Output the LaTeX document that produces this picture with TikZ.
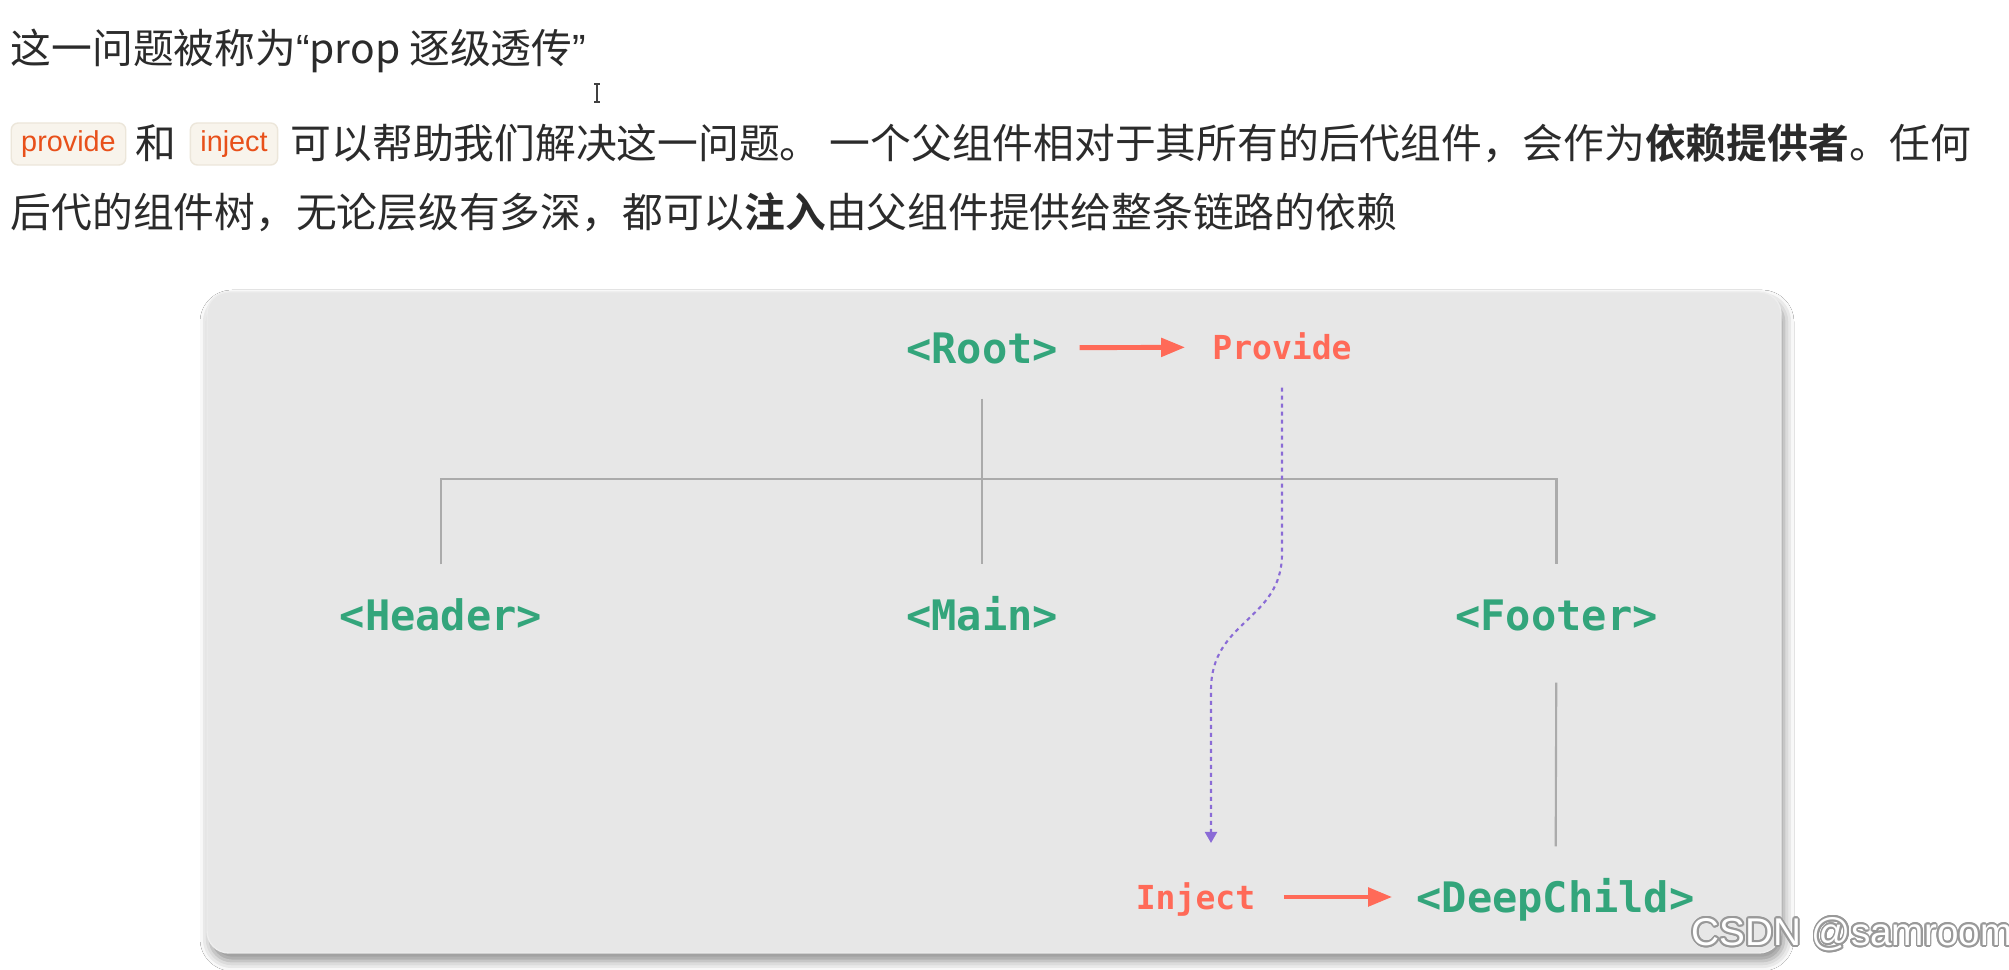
\documentclass[tikz,border=0pt]{standalone}
\usepackage{fontspec}
\setmainfont{Noto Sans CJK SC}[BoldFont={Noto Sans CJK SC Bold}]
\newfontfamily\codefont{DejaVu Sans Mono}
\newfontfamily\markfont{Liberation Sans}
\usepackage[copies]{contour}
\contourlength{0.5pt}
\usetikzlibrary{arrows.meta,shadows.blur}
\definecolor{vuegreen}{HTML}{33A57B}
\definecolor{vuered}{HTML}{FF6A58}
\definecolor{vuepurple}{HTML}{8A6BD6}
\definecolor{treegray}{HTML}{ABABAB}
\definecolor{panelgray}{HTML}{E7E7E7}
\definecolor{bodytext}{HTML}{2B2B2B}
\definecolor{tagfill}{HTML}{F8F4EC}
\definecolor{tagline}{HTML}{ECE6DA}
\definecolor{tagtext}{HTML}{E8501A}

\tikzset{
  comp/.style={text=vuegreen, font=\codefont\fontsize{11.95pt}{14pt}\selectfont\bfseries,
    inner sep=0pt, minimum height=1cm, text height=8.7pt, text depth=0pt},
  act/.style={text=vuered, font=\codefont\fontsize{9.4pt}{11pt}\selectfont\bfseries,
    inner sep=0pt, minimum height=0.8cm, text height=6.85pt, text depth=0pt},
  tree/.style={treegray, line width=0.6pt},
  push/.style={vuered, line width=1.4pt, -{Triangle[length=0.24cm,width=0.18cm]}},
  inj/.style={vuepurple, line width=0.6pt, dash pattern=on 0.04cm off 0.04cm,
    -{Triangle[length=0.11cm,width=0.12cm]}},
  para/.style={anchor=west, inner sep=0pt, text=bodytext, font=\fontsize{11.6pt}{14pt}\selectfont,
    text height=9.8pt, text depth=1.2pt},
  tag/.style={fill=tagfill, draw=tagline, line width=0.4pt, rounded corners=2pt, text=tagtext,
    font=\markfont\fontsize{8.2pt}{10pt}\selectfont, inner xsep=0.1cm, inner ysep=0pt,
    minimum height=0.42cm, text height=6pt, text depth=1.8pt}
}

\begin{document}
\begin{tikzpicture}
  \useasboundingbox[fill=white] (0,0) rectangle (20.09,9.70);

  % text above the figure
  \node[para] (title) at (0.10,9.22) {这一问题被称为{\markfont“}prop 逐级透传{\markfont”}};
  \draw[black!75, line width=0.5pt] (5.97,8.86) -- (5.97,8.68) (5.94,8.86) -- (6.00,8.86) (5.94,8.68) -- (6.00,8.68);
  \node[tag] (tagprovide) at (0.685,8.26) {provide};
  \node[para, anchor=center] (he) at (1.56,8.27) {和};
  \node[tag] (taginject) at (2.34,8.26) {inject};
  \node[para] (line2) at (2.90,8.27) {可以帮助我们解决这一问题。 一个父组件相对于其所有的后代组件，会作为\textbf{依赖提供者}。任何};
  \node[para] (line3) at (0.10,7.58) {后代的组件树，无论层级有多深，都可以\textbf{注入}由父组件提供给整条链路的依赖};

  % panel
  \draw[draw=black!7, fill=panelgray, rounded corners=0.22cm,
    blur shadow={shadow xshift=0.03cm, shadow yshift=-0.08cm, shadow blur radius=0.1cm, shadow opacity=45}]
    (2.07,0.17) rectangle (17.81,6.78);

  % components
  \node[comp] (root) at (9.82,6.22) {<Root>};
  \node[act] (provide) at (12.82,6.23) {Provide};
  \node[comp] (header) at (4.41,3.55) {<Header>};
  \node[comp] (main) at (9.82,3.55) {<Main>};
  \node[comp] (footer) at (15.565,3.55) {<Footer>};
  \node[comp] (deepchild) at (15.555,0.73) {<DeepChild>};
  \node[act] (inject) at (11.955,0.73) {Inject};

  \coordinate (bus) at (0,4.91);
  \coordinate (bend) at (12.11,2.80);
  \coordinate (injtip) at (12.11,1.27);

  % tree
  \draw[tree] (root) -- (main);
  \draw[tree] (header.north) -- (header.north |- bus) -- (footer.north |- bus) -- (footer.north);
  \draw[tree, shorten <=0.17cm] (footer) -- (deepchild);

  % provide / inject
  \draw[push, shorten <=0.21cm, shorten >=0.265cm] (root) -- (provide);
  \draw[push, shorten <=0.28cm, shorten >=0.235cm] (inject) -- (deepchild);
  \draw[inj] (provide.south) -- ++(0,-1.66) .. controls +(0,-0.67) and +(0,0.7) .. (bend) -- (injtip);

  \node[text=white, font=\markfont\fontsize{11pt}{13pt}\selectfont, inner sep=0pt] (mark) at (18.52,0.35) {\contour{black!40}{CSDN @samroom}};
\end{tikzpicture}
\end{document}
